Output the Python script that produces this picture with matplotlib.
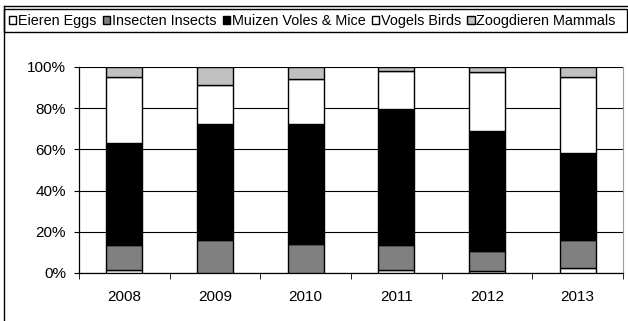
import numpy as np
import matplotlib.pyplot as plt
from matplotlib.patches import Patch, Rectangle
from matplotlib.lines import Line2D

plt.rcParams['font.family'] = ['Liberation Sans', 'DejaVu Sans']

years = ['2008', '2009', '2010', '2011', '2012', '2013']
eggs = [1.6, 0.0, 0.0, 1.3, 1.1, 2.4]
insects = [11.8, 15.9, 14.2, 12.1, 9.7, 13.5]
mice = [49.9, 56.4, 58.1, 66.2, 58.3, 42.4]
birds = [31.7, 18.8, 21.9, 18.3, 28.5, 37.0]
mammals = [5.0, 8.9, 5.8, 2.1, 2.4, 4.7]

labels = ['Eieren Eggs', 'Insecten Insects', 'Muizen Voles & Mice',
          'Vogels Birds', 'Zoogdieren Mammals']
colors = ['white', '#808080', 'black', 'white', '#c0c0c0']
series = [eggs, insects, mice, birds, mammals]

W, H = 628, 321
fig = plt.figure(figsize=(W / 100, H / 100), dpi=100)
ax = fig.add_axes([79 / W, 48 / H, 544 / W, 206 / H])

x = np.arange(len(years))
bottom = np.zeros(len(years))
for vals, col in zip(series, colors):
    ax.bar(x, vals, bottom=bottom, width=0.4, color=col,
           edgecolor='black', linewidth=1.0, zorder=3)
    bottom += np.array(vals)

ax.set_xlim(-0.5, len(years) - 0.5)
ax.set_ylim(0, 100)
ax.set_yticks(np.arange(0, 101, 20))
ax.set_yticklabels([f'{v}%' for v in range(0, 101, 20)], fontsize=11)
ax.yaxis.grid(True, color='black', linewidth=0.8, zorder=0)

# categories labelled at centres, tick marks between them
ax.set_xticks(x)
ax.set_xticklabels(years, fontsize=11)
ax.tick_params(axis='x', length=0, pad=12)
ax.set_xticks(np.arange(-0.5, len(years)), minor=True)
ax.tick_params(axis='x', which='minor', length=4, direction='out', color='black')
ax.tick_params(axis='y', length=3.6, direction='out', pad=5.8)

ax.spines['top'].set_visible(False)
ax.spines['right'].set_color('#a0a0a0')
ax.spines['left'].set_linewidth(0.9)
ax.spines['bottom'].set_linewidth(0.9)

# chart border and legend box
fig.add_artist(Line2D([4 / W, 1], [1 - 5.5 / H, 1 - 5.5 / H], color='black', lw=1.0))
fig.add_artist(Line2D([4 / W, 4 / W], [0, 1 - 5.5 / H], color='black', lw=1.0))
fig.add_artist(Rectangle((4 / W, 1 - 32 / H), (W - 5) / W, 23.5 / H,
                         transform=fig.transFigure, fill=True,
                         facecolor='white', edgecolor='black', lw=1.0))

handles = [Patch(facecolor=c, edgecolor='black', linewidth=1.0) for c in colors]
fig.legend(handles, labels, loc='center left', bbox_to_anchor=(9 / W, 1 - 21 / H),
           ncol=5, frameon=False, fontsize=10.35, handlelength=0.5,
           handleheight=0.5, handletextpad=0.12, columnspacing=0.45,
           borderaxespad=0, borderpad=0)

fig.savefig('out.png', dpi=100)
